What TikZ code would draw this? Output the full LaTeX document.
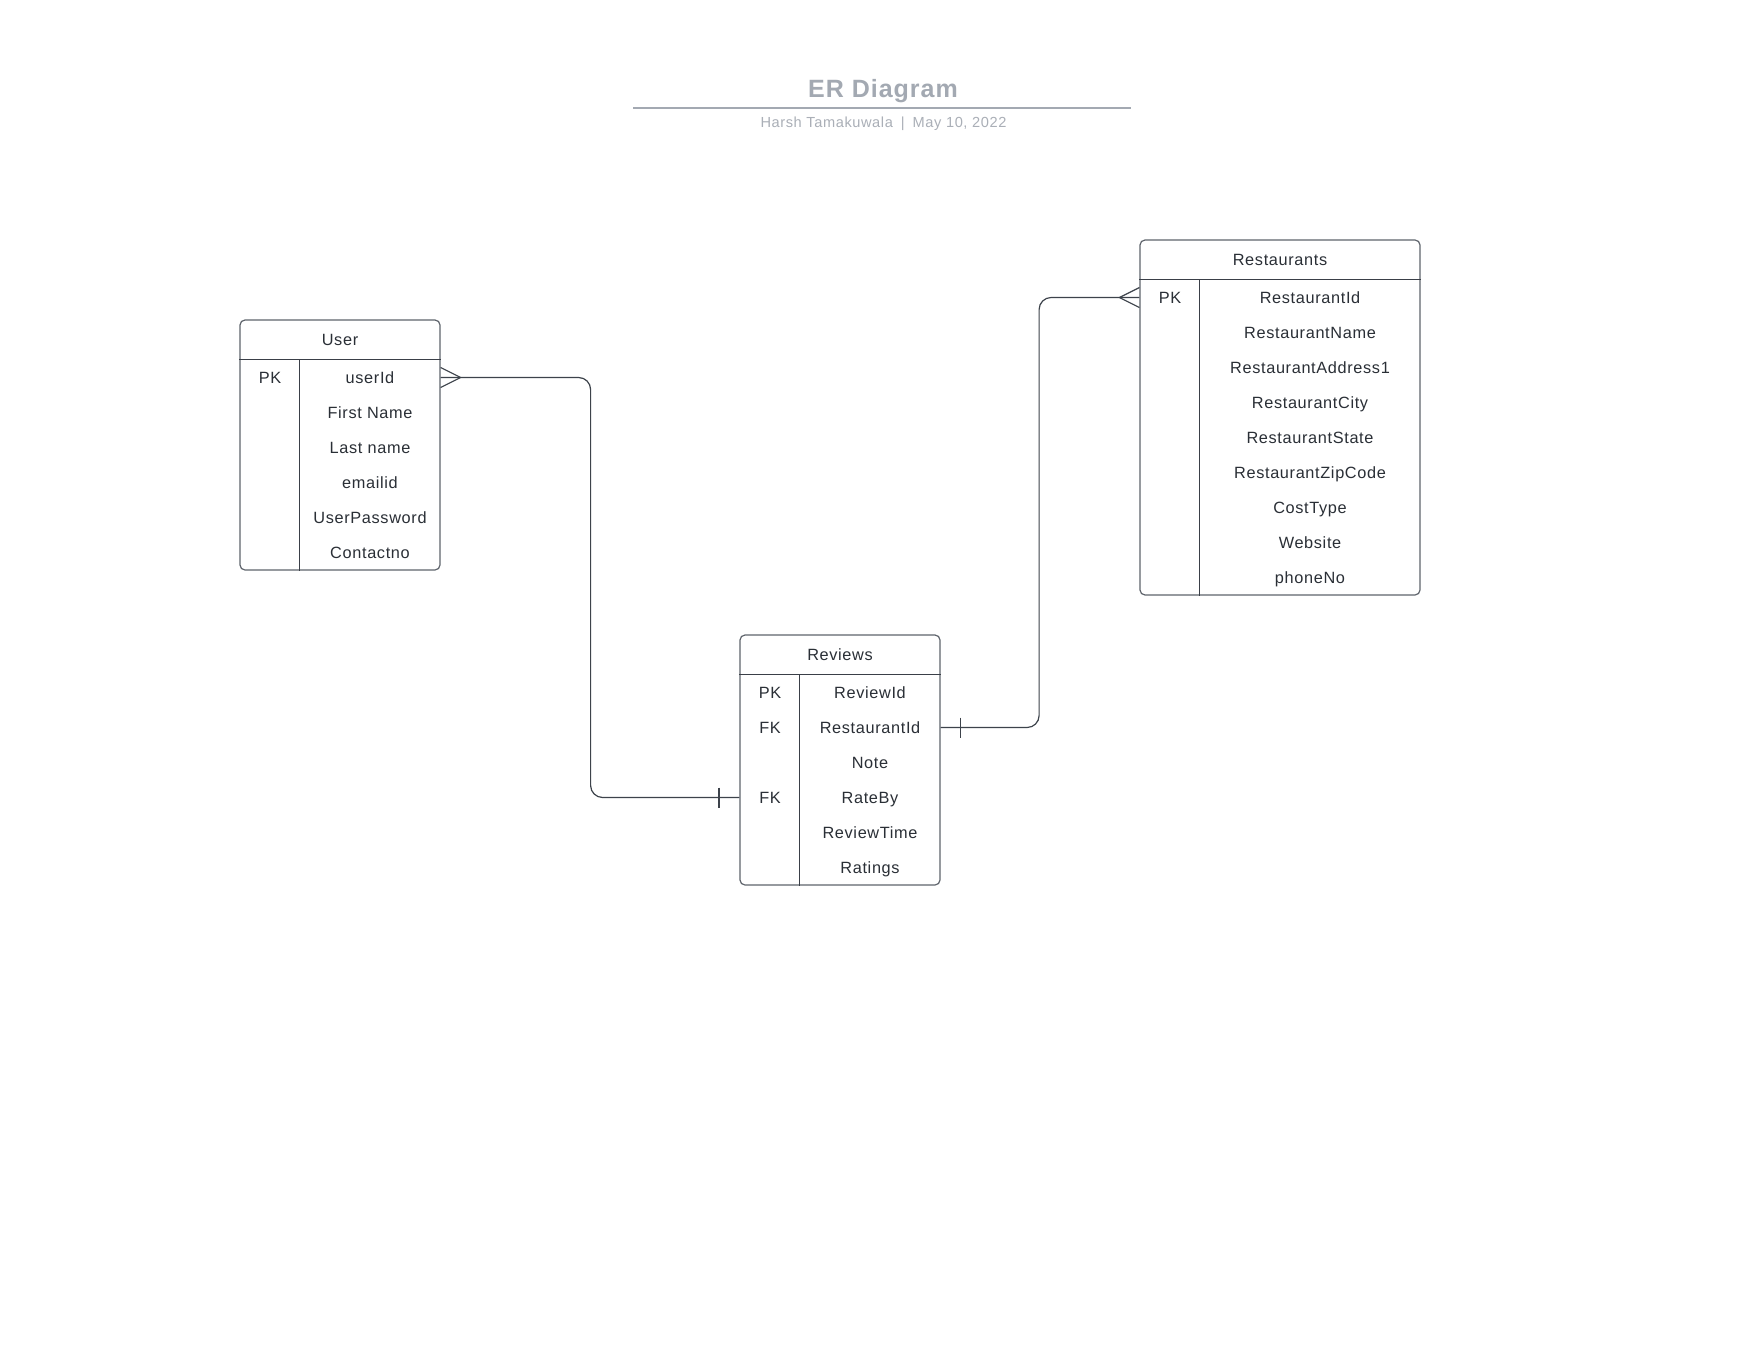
\documentclass[tikz,border=0pt]{standalone}
\usepackage{fontspec}
\setmainfont{Liberation Sans}[LetterSpace=4]
\definecolor{titlegrey}{HTML}{A3A9B2}
\definecolor{subgrey}{HTML}{AAAFB7}
\definecolor{fieldtext}{HTML}{2A2F36}
\definecolor{boxline}{HTML}{5F646C}
\definecolor{innerline}{HTML}{3A3F47}
\definecolor{connline}{HTML}{3D434B}
\begin{document}
\begin{tikzpicture}[x=1pt,y=-1pt,
  tablebox/.style={draw=boxline, line width=1.2pt, rounded corners=5pt, inner sep=0pt, fill=white},
  rule/.style={draw=innerline, line width=1.1pt},
  field/.style={text=fieldtext, font=\fontsize{16.3}{19}\selectfont, inner sep=0pt,
    text height=11.7pt, text depth=0pt, anchor=center},
  conn/.style={draw=connline, line width=1.2pt},
]
\fill[white] (0,0) rectangle (1760,1360);
\useasboundingbox (0,0) rectangle (1760,1360);

% Title block
\node[text=titlegrey, font=\fontsize{25}{30}\selectfont\bfseries, inner sep=0pt,
  text height=18pt, text depth=0pt] (title) at (883,88) {ER Diagram};
\draw[draw=titlegrey, line width=1.6pt] (633,108) -- (1131,108);
\node[text=subgrey, font=\fontsize{14.6}{17}\selectfont, inner sep=0pt,
  text height=10.5pt, text depth=0pt] (subtitle) at (883.5,122.5)
  {Harsh Tamakuwala\hspace{8pt}|\hspace{8pt}May 10, 2022};

% ---------------- User ----------------
\node[tablebox, minimum width=200pt, minimum height=250pt] (user) at (340,445) {};
\draw[rule] ([yshift=-40pt]user.north west) -- ([yshift=-40pt]user.north east);
\draw[rule] ([xshift=60pt,yshift=-40pt]user.north west) -- ([xshift=60pt]user.south west);
\node[field] (userT) at (340,340) {User};
\node[field] (uk1) at (270,377.5) {PK};
\node[field] (u1) at (370,377.5) {userId};
\node[field] (u2) at (370,412.5) {First Name};
\node[field] (u3) at (370,447.5) {Last name};
\node[field] (u4) at (370,482.5) {emailid};
\node[field] (u5) at (370,517.5) {UserPassword};
\node[field] (u6) at (370,552.5) {Contactno};

% ---------------- Reviews ----------------
\node[tablebox, minimum width=200pt, minimum height=250pt] (rev) at (840,760) {};
\draw[rule] ([yshift=-40pt]rev.north west) -- ([yshift=-40pt]rev.north east);
\draw[rule] ([xshift=60pt,yshift=-40pt]rev.north west) -- ([xshift=60pt]rev.south west);
\node[field] (revT) at (840,655) {Reviews};
\node[field] (rvk1) at (770,692.5) {PK};
\node[field] (rvk2) at (770,727.5) {FK};
\node[field] (rvk4) at (770,797.5) {FK};
\node[field] (rv1) at (870,692.5) {ReviewId};
\node[field] (rv2) at (870,727.5) {RestaurantId};
\node[field] (rv3) at (870,762.5) {Note};
\node[field] (rv4) at (870,797.5) {RateBy};
\node[field] (rv5) at (870,832.5) {ReviewTime};
\node[field] (rv6) at (870,867.5) {Ratings};

% ---------------- Restaurants ----------------
\node[tablebox, minimum width=280pt, minimum height=355pt] (rest) at (1280,417.5) {};
\draw[rule] ([yshift=-40pt]rest.north west) -- ([yshift=-40pt]rest.north east);
\draw[rule] ([xshift=60pt,yshift=-40pt]rest.north west) -- ([xshift=60pt]rest.south west);
\node[field] (restT) at (1280,260) {Restaurants};
\node[field] (rsk1) at (1170,297.5) {PK};
\node[field] (rs1) at (1310,297.5) {RestaurantId};
\node[field] (rs2) at (1310,332.5) {RestaurantName};
\node[field] (rs3) at (1310,367.5) {RestaurantAddress1};
\node[field] (rs4) at (1310,402.5) {RestaurantCity};
\node[field] (rs5) at (1310,437.5) {RestaurantState};
\node[field] (rs6) at (1310,472.5) {RestaurantZipCode};
\node[field] (rs7) at (1310,507.5) {CostType};
\node[field] (rs8) at (1310,542.5) {Website};
\node[field] (rs9) at (1310,577.5) {phoneNo};

% ---------------- Relationships ----------------
\coordinate (uK) at (user.east |- u1);
\coordinate (rvB) at (rev.west |- rv4);
\coordinate (rvA) at (rev.east |- rv2);
\coordinate (rsK) at (rest.west |- rs1);

% User (many) -- Reviews.RateBy (one)
\draw[conn, rounded corners=12pt] (uK) -- ++(150,0) |- (rvB);
\draw[conn] ([yshift=10pt]uK) -- ([xshift=20pt]uK) -- ([yshift=-10pt]uK);
\draw[conn] ([xshift=-20.5pt,yshift=10pt]rvB) -- ([xshift=-20.5pt,yshift=-10pt]rvB);

% Reviews.RestaurantId (one) -- Restaurants (many)
\draw[conn, rounded corners=12pt] (rvA) -- ++(98.5,0) |- (rsK);
\draw[conn] ([xshift=20pt,yshift=10pt]rvA) -- ([xshift=20pt,yshift=-10pt]rvA);
\draw[conn] ([yshift=10pt]rsK) -- ([xshift=-20pt]rsK) -- ([yshift=-10pt]rsK);
\end{tikzpicture}
\end{document}
